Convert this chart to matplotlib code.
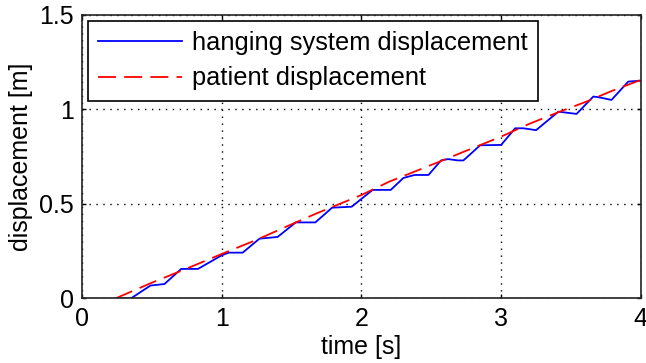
import numpy as np
import matplotlib
matplotlib.use("Agg")
import matplotlib.pyplot as plt

plt.rcParams['font.family'] = ['Liberation Sans', 'DejaVu Sans']

# hanging system displacement (blue)
t_hang = [0.27, 0.35, 0.49, 0.59, 0.71, 0.83, 1.0, 1.05, 1.15, 1.27, 1.4, 1.53, 1.67,
          1.79, 1.93, 2.08, 2.21, 2.30, 2.38, 2.48, 2.57, 2.62, 2.69, 2.73, 2.85, 3.0,
          3.1, 3.16, 3.25, 3.41, 3.54, 3.66, 3.70, 3.79, 3.91, 4.0]
y_hang = [0.0, 0.0, 0.068, 0.076, 0.156, 0.156, 0.228, 0.242, 0.242, 0.316, 0.325, 0.402, 0.402,
          0.48, 0.485, 0.574, 0.574, 0.637, 0.653, 0.653, 0.73, 0.737, 0.73, 0.73, 0.81, 0.812,
          0.90, 0.90, 0.89, 0.988, 0.976, 1.068, 1.064, 1.05, 1.147, 1.152]

# patient displacement (red)
t_pat = [0.24, 0.5, 0.75, 1.0, 1.25, 1.5, 1.67, 2.0, 2.2, 2.47, 2.8, 3.0, 3.2, 3.42, 3.61, 3.8, 4.0]
y_pat = [0.0, 0.083, 0.158, 0.235, 0.31, 0.392, 0.447, 0.547, 0.618, 0.697, 0.796, 0.856,
         0.923, 0.988, 1.041, 1.10, 1.156]

xticks = [0, 1, 2, 3, 4]
yticks = [0, 0.5, 1, 1.5]
ytick_labels = ["0", "0.5", "1", "1.5"]

fig = plt.figure(figsize=(6.46, 3.63), dpi=100)
ax = fig.add_axes([0.127, 0.178, 0.865, 0.781])

ax.plot(t_hang, y_hang, color="#0000ff", lw=1.3, label="hanging system displacement")
ax.plot(t_pat, y_pat, color="#ff0000", lw=1.3, dashes=(10, 4.5), label="patient displacement")

ax.set_xlim(0, 4)
ax.set_ylim(0, 1.5)
ax.set_xticks(xticks)
ax.set_yticks(yticks)
ax.set_yticklabels(ytick_labels)
ax.grid(True, color="black", lw=1.0, linestyle=(0, (1, 4)))
ax.tick_params(direction="in", length=3, width=1, top=True, right=True,
               labelsize=18, pad=6)
for s in ax.spines.values():
    s.set_linewidth(1.2)
    s.set_color("#222222")

ax.set_xlabel("time [s]", fontsize=18, labelpad=3)
ax.set_ylabel("displacement [m]", fontsize=18, labelpad=4)

leg = ax.legend(loc="upper left", bbox_to_anchor=(0.01, 0.978), borderaxespad=0,
                fontsize=18.3, handlelength=3.3, handletextpad=0.4, labelspacing=0.44,
                borderpad=0.4, fancybox=False, framealpha=1, edgecolor="black")
leg.get_frame().set_linewidth(1.2)

fig.savefig("out.png", dpi=100)
